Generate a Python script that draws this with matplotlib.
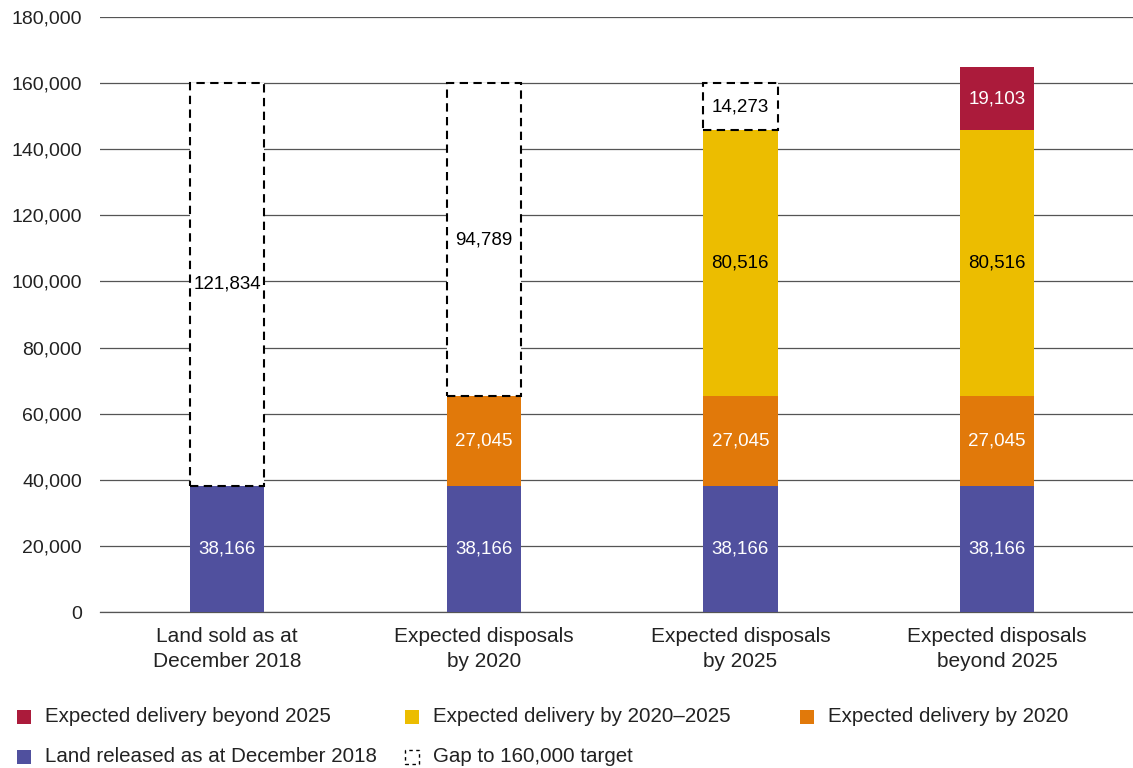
import numpy as np
import matplotlib.pyplot as plt
from matplotlib.patches import Rectangle

plt.rcParams['font.family'] = ['Liberation Sans', 'DejaVu Sans']

categories = ['Land sold as at\nDecember 2018', 'Expected disposals\nby 2020',
              'Expected disposals\nby 2025', 'Expected disposals\nbeyond 2025']
land_released = [38166, 38166, 38166, 38166]
by_2020 = [0, 27045, 27045, 27045]
by_2020_2025 = [0, 0, 80516, 80516]
beyond_2025 = [0, 0, 0, 19103]
gap_to_target = [121834, 94789, 14273, 0]

series = [
    (land_released, '#50509E', 'white'),
    (by_2020, '#E1790A', 'white'),
    (by_2020_2025, '#ECBD00', 'black'),
    (beyond_2025, '#AB1B3B', 'white'),
]

fig = plt.figure(figsize=(11.33, 7.68), dpi=100)
ax = fig.add_axes([0.0883, 0.203, 0.9117, 0.775])

x = np.arange(len(categories))
width = 0.29
bottom = np.zeros(len(categories))

for values, color, txt_color in series:
    values = np.array(values)
    ax.bar(x, values, width, bottom=bottom, color=color, zorder=2)
    for xi, v, b in zip(x, values, bottom):
        if v > 0:
            ax.text(xi, b + v / 2, f'{v:,}', ha='center', va='center',
                    color=txt_color, fontsize=13.5, zorder=4)
    bottom += values

# dashed boxes for the gap to the 160,000 target
gaps = np.array(gap_to_target)
has_gap = gaps > 0
ax.bar(x[has_gap], gaps[has_gap], width, bottom=bottom[has_gap], color='white',
       edgecolor='black', linewidth=1.5, linestyle=(0, (4, 2.6)), zorder=3)
for xi, v, b in zip(x, gaps, bottom):
    if v > 0:
        ax.text(xi, b + v / 2, f'{v:,}', ha='center', va='center',
                color='black', fontsize=13.5, zorder=4)

ax.set_xlim(-0.495, 3.53)
ax.set_ylim(0, 180000)
ax.set_yticks(np.arange(0, 180001, 20000))
ax.set_yticklabels([f'{t:,}' for t in range(0, 180001, 20000)])
ax.set_xticks(x)
ax.set_xticklabels(categories, linespacing=1.35, fontsize=15)
ax.tick_params(axis='both', length=0, colors='#222222')
ax.tick_params(axis='y', pad=13, labelsize=14)
ax.tick_params(axis='x', pad=11)
ax.grid(axis='y', color='#555555', linewidth=0.9)
ax.axhline(0, color='#555555', linewidth=0.9, zorder=1, clip_on=False)
ax.set_axisbelow(True)
for s in ax.spines.values():
    s.set_visible(False)

# legend drawn in figure pixels
W, H = 1133, 768
legend_items = [
    ('#AB1B3B', 'Expected delivery beyond 2025', 17, 717),
    ('#ECBD00', 'Expected delivery by 2020\u20132025', 405, 717),
    ('#E1790A', 'Expected delivery by 2020', 800, 717),
    ('#50509E', 'Land released as at December 2018', 17, 757),
    (None, 'Gap to 160,000 target', 405, 757),
]
sq = 14
for color, label, px, py in legend_items:
    if color is None:
        patch = Rectangle((px / W, (H - py - sq / 2) / H), sq / W, sq / H,
                          transform=fig.transFigure, facecolor='white',
                          edgecolor='black', linewidth=1.0,
                          linestyle=(0, (2.5, 2.5)))
    else:
        patch = Rectangle((px / W, (H - py - sq / 2) / H), sq / W, sq / H,
                          transform=fig.transFigure, facecolor=color,
                          edgecolor='none')
    fig.add_artist(patch)
    fig.text((px + sq + 14) / W, (H - py) / H, label, ha='left', va='center',
             fontsize=14.8, color='#222222')

plt.savefig('out.png', dpi=100)
